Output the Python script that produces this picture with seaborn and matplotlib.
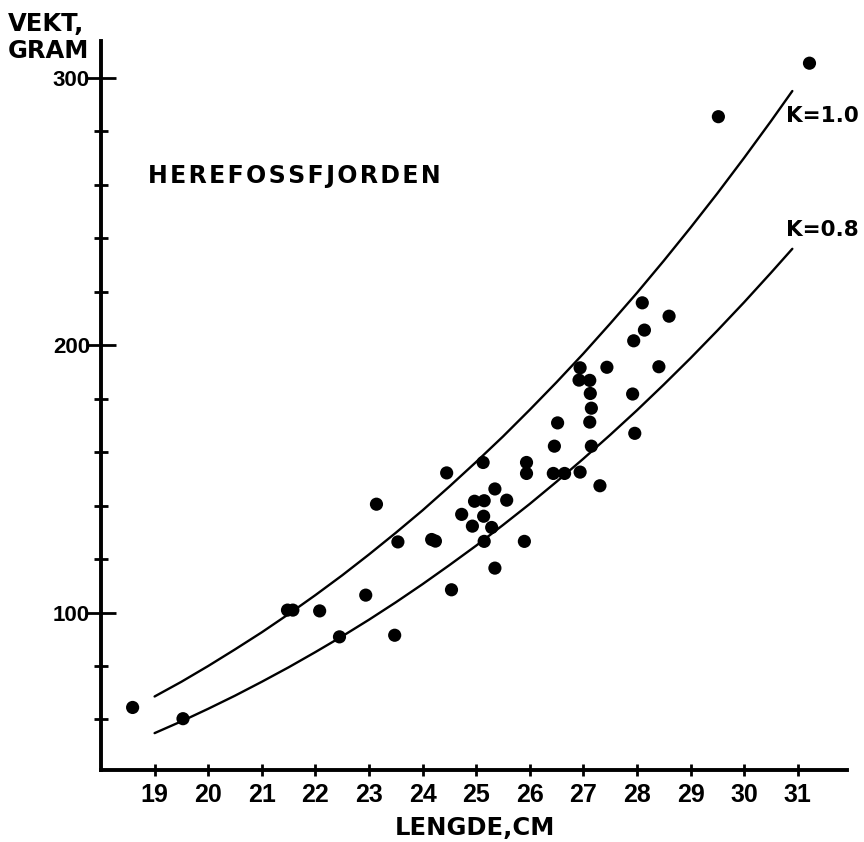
import matplotlib
matplotlib.use("Agg")
import matplotlib.pyplot as plt
import seaborn as sns
import pandas as pd

# Observed fish: length (cm) and weight (g)
length_cm = [18.59, 19.53, 21.48, 21.58, 22.08, 22.45, 22.94, 23.14, 23.54, 23.48,
             24.17, 24.24, 24.45, 24.54, 24.73, 24.93, 24.97, 25.15, 25.13, 25.35,
             25.14, 25.29, 25.15, 25.57, 25.35, 25.90, 25.94, 25.94, 26.52, 26.46,
             26.44, 26.65, 26.94, 27.31, 27.15, 26.94, 26.92, 27.12, 27.13, 27.15,
             27.12, 27.44, 27.94, 28.14, 28.41, 27.92, 27.96, 28.10, 28.60, 29.52,
             31.22]
weight_g = [64.5, 60.3, 100.9, 100.9, 100.6, 90.9, 106.5, 140.5, 126.4, 91.5,
            127.3, 126.7, 152.2, 108.5, 136.7, 132.3, 141.6, 141.8, 156.1, 146.2,
            136.0, 131.8, 126.6, 142.0, 116.6, 126.6, 156.1, 152.0, 170.9, 162.2,
            152.0, 152.0, 152.5, 147.4, 162.2, 191.5, 186.9, 186.8, 181.9, 176.4,
            171.2, 191.7, 201.6, 205.6, 191.9, 181.7, 167.0, 215.8, 210.8, 285.4,
            305.4]

# Condition-factor reference curves (K = 1.0 and K = 0.8), read every 0.5 cm
curve_len = [19, 19.5, 20, 20.5, 21, 21.5, 22, 22.5, 23, 23.5, 24, 24.5, 25,
             25.5, 26, 26.5, 27, 27.5, 28, 28.5, 29, 29.5, 30, 30.5, 30.9]
k10_weight = [68.6, 74.1, 80.0, 86.2, 92.6, 99.4, 106.5, 113.9, 121.7, 129.8,
              138.2, 147.1, 156.3, 165.8, 175.8, 186.1, 196.8, 208.0, 219.5,
              231.5, 243.9, 256.7, 270.0, 283.7, 295.0]
k08_weight = [54.9, 59.3, 64.0, 68.9, 74.1, 79.5, 85.2, 91.1, 97.3, 103.8,
              110.6, 117.7, 125.0, 132.7, 140.6, 148.9, 157.5, 166.4, 175.6,
              185.2, 195.1, 205.4, 216.0, 227.0, 236.0]

x_ticks = list(range(19, 32))
y_major = [100, 200, 300]
y_minor = [60, 80, 120, 140, 160, 180, 220, 240, 260, 280]

sns.set_style("ticks")
plt.rcParams['font.family'] = ['DejaVu Sans']
for k in ("text.color", "axes.edgecolor", "xtick.color", "ytick.color",
          "axes.labelcolor"):
    plt.rcParams[k] = "black"

W, H = 864, 842
fig = plt.figure(figsize=(W / 100, H / 100), dpi=100)
ax = fig.add_axes([101 / W, (H - 769.5) / H, (847 - 101) / W, (769.5 - 41) / H])

pts = pd.DataFrame({"length": length_cm, "weight": weight_g})
curves = pd.DataFrame({"length": curve_len + curve_len,
                       "weight": k10_weight + k08_weight,
                       "K": ["1.0"] * len(curve_len) + ["0.8"] * len(curve_len)})

sns.lineplot(data=curves, x="length", y="weight", units="K", estimator=None,
             sort=False, color="black", linewidth=1.7, ax=ax)
sns.scatterplot(data=pts, x="length", y="weight", color="black", s=90,
                edgecolor="none", ax=ax, zorder=3)

ax.set_xlim(18, 31.92)
ax.set_ylim(41.3, 313.7)
ax.set_xlabel("")
ax.set_ylabel("")
sns.despine(ax=ax)
for s in ("left", "bottom"):
    ax.spines[s].set_linewidth(2.8)
    ax.spines[s].set_color("black")

ax.set_xticks(x_ticks)
ax.set_xticklabels([str(t) for t in x_ticks])
ax.set_yticks(y_major)
ax.set_yticklabels([str(t) for t in y_major])
ax.set_yticks(y_minor, minor=True)

ax.tick_params(axis="x", which="major", direction="inout", length=8, width=2,
               pad=6, labelsize=18, colors="black")
ax.tick_params(axis="y", which="major", direction="inout", length=22, width=2,
               pad=-3, labelsize=16, colors="black")
ax.tick_params(axis="y", which="minor", direction="inout", length=10, width=2,
               colors="black")
for lab in ax.get_xticklabels() + ax.get_yticklabels():
    lab.set_fontfamily(["Liberation Sans", "DejaVu Sans"])
    lab.set_fontweight("heavy")

def ftext(x, y, s, size, ha="left"):
    fig.text(x / W, 1 - y / H, s, fontsize=size, fontweight="heavy",
             ha=ha, va="baseline", family=["DejaVu Sans"], color="black")

ftext(8, 31, "VEKT,", 17.5)
ftext(8, 58, "GRAM", 17.5)
ftext(148, 183, "\u200a".join("HEREFOSSFJORDEN"), 17)
ftext(475, 835, "LENGDE,CM", 17.5, ha="center")
ftext(786, 122, "K=1.0", 15.5)
ftext(786, 236, "K=0.8", 15.5)

fig.savefig("out.png", dpi=100)
